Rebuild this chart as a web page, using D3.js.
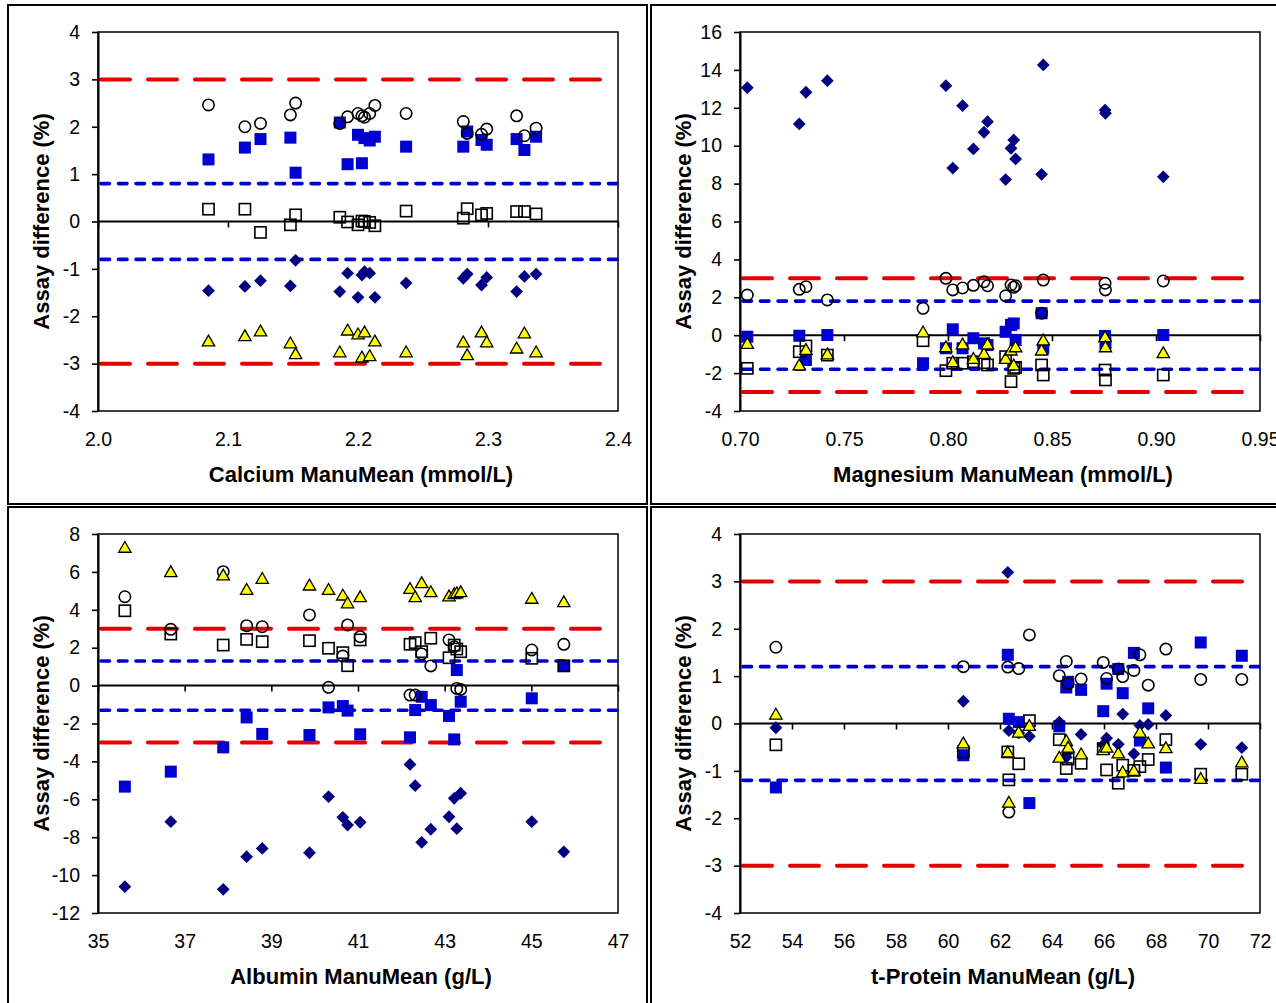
<!DOCTYPE html>
<html><head><meta charset="utf-8">
<script src="https://cdn.jsdelivr.net/npm/d3@7"></script>
<style>
body{margin:0;background:#fff}
svg{display:block}
text{font-family:"Liberation Sans",Arial,sans-serif;fill:#000}
</style>
</head><body>
<svg id="chart" width="1276" height="1003"></svg>
<script>
// ---------------- DATA ----------------
const seriesNames = ["Analyzer 1 (open circle)", "Analyzer 2 (blue square)", "Analyzer 3 (open square)", "Analyzer 4 (navy diamond)", "Analyzer 5 (yellow triangle)"];

// Calcium
const caMean     = [2.085, 2.113, 2.125, 2.148, 2.152, 2.186, 2.192, 2.200, 2.203, 2.205, 2.209, 2.213, 2.237, 2.281, 2.284, 2.295, 2.299, 2.322, 2.328, 2.337];
const caCircle   = [2.46, 2.00, 2.07, 2.25, 2.50, 2.07, 2.21, 2.28, 2.23, 2.20, 2.28, 2.45, 2.28, 2.11, 1.86, 1.84, 1.95, 2.23, 1.81, 1.97];
const caBlueSq   = [1.31, 1.56, 1.74, 1.77, 1.03, 2.09, 1.21, 1.83, 1.23, 1.76, 1.71, 1.79, 1.58, 1.58, 1.90, 1.72, 1.62, 1.74, 1.51, 1.79];
const caOpenSq   = [0.26, 0.26, -0.23, -0.07, 0.14, 0.09, -0.01, -0.07, 0.01, 0.00, -0.02, -0.09, 0.22, 0.07, 0.27, 0.14, 0.17, 0.21, 0.21, 0.16];
const caDiamond  = [-1.46, -1.37, -1.25, -1.36, -0.82, -1.48, -1.09, -1.60, -1.13, -1.06, -1.09, -1.60, -1.30, -1.20, -1.11, -1.34, -1.18, -1.48, -1.16, -1.11];
const caTriangle = [-2.52, -2.41, -2.31, -2.56, -2.79, -2.75, -2.29, -2.37, -2.86, -2.33, -2.83, -2.52, -2.75, -2.54, -2.81, -2.33, -2.54, -2.67, -2.35, -2.75];

// Magnesium
const mgMean     = [0.7035, 0.7285, 0.7317, 0.742, 0.788, 0.799, 0.8023, 0.807, 0.8122, 0.8173, 0.819, 0.8277, 0.8303, 0.8316, 0.8325, 0.845, 0.8458, 0.8755, 0.8757, 0.9035];
const mgCircle   = [2.12, 2.42, 2.56, 1.86, 1.42, 3.00, 2.39, 2.49, 2.63, 2.82, 2.61, 2.08, 2.65, 2.53, 2.61, 1.16, 2.91, 2.74, 2.39, 2.86];
const mgBlueSq   = [-0.08, -0.03, -1.31, 0.01, -1.48, -0.69, 0.31, -0.69, -0.16, -0.43, -0.52, 0.18, 0.54, 0.62, -0.25, 1.16, -0.69, -0.04, -0.43, 0.01];
const mgOpenSq   = [-1.75, -0.87, -0.57, -1.05, -0.29, -1.87, -1.48, -1.48, -1.40, -1.45, -1.57, -1.13, -2.45, -1.75, -1.70, -1.57, -2.10, -1.84, -2.36, -2.10];
const mgDiamond  = [13.06, 11.15, 12.82, 13.43, null, 13.17, 8.82, 12.11, 9.83, 10.71, 11.27, 8.21, 9.86, 10.30, 9.30, 8.49, 14.26, 11.88, 11.71, 8.36];
const mgTriangle = [-0.43, -1.57, -0.75, -0.99, 0.18, -0.61, -1.40, -0.46, -1.22, -0.96, -0.46, -1.22, -0.78, -1.57, -0.61, -0.78, -0.25, -0.08, -0.61, -0.92];

// Albumin
const alMean     = [35.62, 36.68, 37.89, 38.43, 38.79, 39.88, 40.32, 40.65, 40.76, 41.05, 42.20, 42.32, 42.47, 42.68, 43.10, 43.22, 43.28, 43.37, 45.01, 45.75];
const alCircle   = [4.69, 2.97, 6.01, 3.16, 3.11, 3.73, -0.09, 1.56, 3.20, 2.58, -0.50, -0.50, 1.67, 1.04, 2.41, 2.05, -0.15, -0.20, 1.88, 2.18];
const alBlueSq   = [-5.33, -4.54, -3.26, -1.68, -2.55, -2.61, -1.15, -1.08, -1.32, -2.57, -2.73, -1.29, -0.59, -1.03, -1.60, -2.84, 0.82, -0.85, -0.67, 1.04];
const alOpenSq   = [3.95, 2.72, 2.14, 2.44, 2.32, 2.37, 1.97, 1.74, 1.05, 2.41, 2.18, 2.27, 1.79, 2.50, 1.47, 2.14, 1.93, 1.79, 1.44, 1.04];
const alDiamond  = [-10.61, -7.18, -10.75, -9.03, -8.59, -8.82, -5.86, -6.95, -7.36, -7.21, -4.16, -5.28, -8.27, -7.58, -6.92, -5.95, -7.55, -5.68, -7.18, -8.77];
const alTriangle = [7.30, 6.01, 5.84, 5.08, 5.66, 5.31, 5.08, 4.78, 4.37, 4.69, 5.13, 4.69, 5.43, 4.96, 4.73, 4.85, 4.90, 4.96, 4.61, 4.43];

// t-Protein
const tpMean     = [53.38, 60.59, 62.30, 62.34, 62.72, 63.13, 64.28, 64.55, 64.62, 65.12, 65.97, 66.10, 66.55, 66.72, 67.15, 67.38, 67.70, 68.38, 69.72, 71.30];
const tpCircle   = [1.61, 1.20, 1.19, -1.87, 1.16, 1.87, 1.01, 1.31, 0.84, 0.94, 1.29, 0.95, 1.15, 0.99, 1.12, 1.45, 0.81, 1.57, 0.93, 0.93];
const tpBlueSq   = [-1.35, -0.67, 1.45, 0.10, 0.03, -1.68, -0.06, 0.76, 0.88, 0.71, 0.26, 0.84, 1.15, 0.64, 1.49, -0.36, 0.32, -0.93, 1.71, 1.43];
const tpOpenSq   = [-0.45, -0.60, -0.60, -1.19, -0.85, 0.06, -0.34, -0.95, -0.75, -0.84, -0.53, -0.98, -1.26, -0.88, -0.99, -0.91, -0.76, -0.34, -1.07, -1.07];
const tpDiamond  = [-0.09, 0.47, 3.19, -0.15, -0.20, -0.27, 0.03, -0.71, -0.60, -0.23, -0.45, -0.31, -0.44, 0.20, -0.64, -0.04, -0.02, 0.17, -0.44, -0.51];
const tpTriangle = [0.20, -0.41, -0.60, -1.66, -0.18, -0.04, -0.71, -0.36, -0.50, -0.64, -0.55, -0.50, -0.62, -1.02, -0.99, -0.18, -0.41, -0.51, -1.16, -0.81];

// Axis ticks
const caXTicks = [2.0, 2.1, 2.2, 2.3, 2.4];
const caYTicks = [-4, -3, -2, -1, 0, 1, 2, 3, 4];
const mgXTicks = [0.70, 0.75, 0.80, 0.85, 0.90, 0.95];
const mgYTicks = [-4, -2, 0, 2, 4, 6, 8, 10, 12, 14, 16];
const alXTicks = [35, 37, 39, 41, 43, 45, 47];
const alYTicks = [-12, -10, -8, -6, -4, -2, 0, 2, 4, 6, 8];
const tpXTicks = [52, 54, 56, 58, 60, 62, 64, 66, 68, 70, 72];
const tpYTicks = [-4, -3, -2, -1, 0, 1, 2, 3, 4];

// Limits (%): total allowable error (red) and inner limits (blue)
const outerLimit = 3;
const innerLimits = [0.8, 1.8, 1.3, 1.2];

const xTitles = ["Calcium ManuMean (mmol/L)", "Magnesium ManuMean (mmol/L)", "Albumin ManuMean (g/L)", "t-Protein ManuMean (g/L)"];
const yTitle = "Assay difference (%)";

// ---------------- LAYOUT ----------------
const panels = [
  {ox: 0,   oy: 0,   mean: caMean, vals: [caCircle, caBlueSq, caOpenSq, caDiamond, caTriangle], xt: caXTicks, yt: caYTicks, xf: d3.format(".1f"), lim: innerLimits[0], title: xTitles[0]},
  {ox: 642, oy: 0,   mean: mgMean, vals: [mgCircle, mgBlueSq, mgOpenSq, mgDiamond, mgTriangle], xt: mgXTicks, yt: mgYTicks, xf: d3.format(".2f"), lim: innerLimits[1], title: xTitles[1]},
  {ox: 0,   oy: 502, mean: alMean, vals: [alCircle, alBlueSq, alOpenSq, alDiamond, alTriangle], xt: alXTicks, yt: alYTicks, xf: d3.format("d"), lim: innerLimits[2], title: xTitles[2]},
  {ox: 642, oy: 502, mean: tpMean, vals: [tpCircle, tpBlueSq, tpOpenSq, tpDiamond, tpTriangle], xt: tpXTicks, yt: tpYTicks, xf: d3.format("d"), lim: innerLimits[3], title: xTitles[3]}
];
const frames = [
  {x: 8, y: 5, w: 639, h: 499}, {x: 651, y: 5, w: 640, h: 499},
  {x: 8, y: 507, w: 639, h: 500}, {x: 651, y: 507, w: 640, h: 500}
];

const RED = "#E40000", BLUE = "#0000D0", NAVY = "#000080", YELLOW = "#FFFF00";
const yFmt = d => d < 0 ? "-" + Math.abs(d) : String(d);

const svg = d3.select("#chart");

frames.forEach(f => {
  svg.append("rect").attr("x", f.x).attr("y", f.y).attr("width", f.w).attr("height", f.h)
    .attr("fill", "none").attr("stroke", "#000").attr("stroke-width", 2);
});

// marker drawers: order of drawing (bottom -> top)
const markerDefs = {
  1: (g) => g.append("rect").attr("x", -6).attr("y", -6).attr("width", 12).attr("height", 12).attr("fill", BLUE),
  3: (g) => g.append("path").attr("d", "M0,-6.4L6.4,0L0,6.4L-6.4,0Z").attr("fill", NAVY),
  2: (g) => g.append("rect").attr("x", -5.6).attr("y", -5.6).attr("width", 11.2).attr("height", 11.2).attr("fill", "none").attr("stroke", "#000").attr("stroke-width", 1.6),
  0: (g) => g.append("circle").attr("r", 5.7).attr("fill", "none").attr("stroke", "#000").attr("stroke-width", 1.6),
  4: (g) => g.append("path").attr("d", "M0,-5.8L6.2,5L-6.2,5Z").attr("fill", YELLOW).attr("stroke", "#000").attr("stroke-width", 1.3).attr("stroke-linejoin", "miter")
};
const drawOrder = [1, 3, 2, 0, 4];

panels.forEach(p => {
  const L = 98 + p.ox, R = 618 + p.ox, T = 32 + p.oy, B = 411 + p.oy;
  const x = d3.scaleLinear().domain([p.xt[0], p.xt[p.xt.length - 1]]).range([L, R]);
  const y = d3.scaleLinear().domain([p.yt[0], p.yt[p.yt.length - 1]]).range([B, T]);
  const g = svg.append("g");

  // plot area frame
  g.append("rect").attr("x", L).attr("y", T).attr("width", R - L).attr("height", B - T)
    .attr("fill", "#fff").attr("stroke", "#000").attr("stroke-width", 1.5);

  // reference lines
  [outerLimit, -outerLimit].forEach(v => {
    g.append("line").attr("x1", L + 1).attr("x2", R - 1).attr("y1", y(v)).attr("y2", y(v))
      .attr("stroke", RED).attr("stroke-width", 4).attr("stroke-dasharray", "29,18")
      .attr("stroke-dashoffset", -2).attr("stroke-linecap", "round");
  });
  [p.lim, -p.lim].forEach(v => {
    g.append("line").attr("x1", L + 1).attr("x2", R - 1).attr("y1", y(v)).attr("y2", y(v))
      .attr("stroke", BLUE).attr("stroke-width", 3.6).attr("stroke-dasharray", "8.5,9")
      .attr("stroke-dashoffset", -2).attr("stroke-linecap", "round");
  });

  // zero line with x ticks
  g.append("line").attr("x1", L).attr("x2", R).attr("y1", y(0)).attr("y2", y(0))
    .attr("stroke", "#000").attr("stroke-width", 2);
  const xTickAxis = g.append("g").attr("transform", `translate(0,${y(0)})`)
    .call(d3.axisBottom(x).tickValues(p.xt).tickSize(6).tickSizeOuter(0).tickFormat(""));
  xTickAxis.select(".domain").remove();
  xTickAxis.selectAll("line").attr("stroke", "#000").attr("stroke-width", 1.6);

  // y axis
  const yAxis = g.append("g").attr("transform", `translate(${L},0)`)
    .call(d3.axisLeft(y).tickValues(p.yt).tickSize(6).tickSizeOuter(0).tickPadding(12).tickFormat(yFmt));
  yAxis.select(".domain").attr("stroke", "#000").attr("stroke-width", 2);
  yAxis.selectAll(".tick line").attr("stroke", "#000").attr("stroke-width", 1.6);
  yAxis.selectAll("text").attr("font-size", 19.5).attr("font-family", '"Liberation Sans",Arial,sans-serif').attr("fill", "#000");

  // x tick labels at the bottom
  const xAxis = g.append("g").attr("transform", `translate(0,${B})`)
    .call(d3.axisBottom(x).tickValues(p.xt).tickSize(0).tickPadding(21).tickFormat(p.xf));
  xAxis.select(".domain").remove();
  xAxis.selectAll("text").attr("font-size", 19.5).attr("font-family", '"Liberation Sans",Arial,sans-serif').attr("fill", "#000");

  // titles
  g.append("text").attr("x", (L + R) / 2 + 3).attr("y", B + 71).attr("text-anchor", "middle")
    .attr("font-size", 22).attr("font-weight", "bold").text(p.title);
  g.append("text").attr("transform", `translate(${49 + p.ox},${(T + B) / 2}) rotate(-90)`)
    .attr("text-anchor", "middle").attr("font-size", 22).attr("font-weight", "bold").text(yTitle);

  // markers
  drawOrder.forEach(si => {
    const vals = p.vals[si];
    const pts = p.mean.map((m, i) => ({m, v: vals[i]})).filter(d => d.v !== null);
    g.append("g").attr("class", "series-" + si).selectAll("g").data(pts).join("g")
      .attr("transform", d => `translate(${x(d.m)},${y(d.v)})`)
      .each(function () { markerDefs[si](d3.select(this)); });
  });
});
</script>
</body></html>
